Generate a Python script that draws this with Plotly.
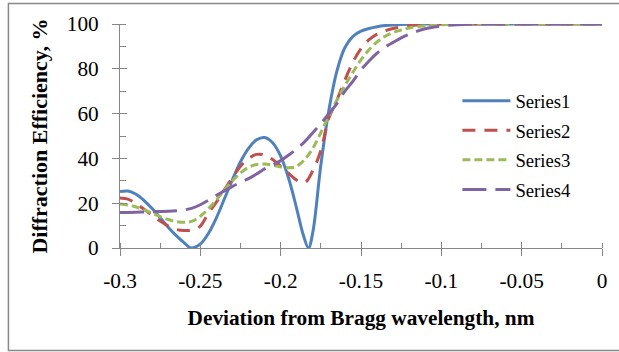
import plotly.graph_objects as go

# ---------------- data ----------------
s1_x = [-0.300, -0.295, -0.290, -0.285, -0.280, -0.275, -0.270, -0.265, -0.260, -0.2557,
        -0.250, -0.245, -0.240, -0.235, -0.230, -0.225, -0.220, -0.215, -0.210, -0.205,
        -0.200, -0.195, -0.190, -0.186, -0.1827, -0.180, -0.175, -0.170, -0.165, -0.160,
        -0.155, -0.150, -0.145, -0.140, -0.135, -0.130, -0.120, -0.110, -0.100, -0.080,
        -0.060, -0.040, -0.020, 0.0]
s1_y = [25.2, 25.4, 24.0, 21.2, 17.6, 13.5, 9.3, 5.5, 2.3, 0.0,
        1.8, 6.5, 13.5, 22.0, 30.5, 38.5, 44.5, 48.3, 49.3, 47.0,
        41.0, 31.0, 17.5, 6.0, 0.0, 7.0, 37.0, 61.5, 79.0, 89.5,
        94.5, 96.8, 98.0, 98.8, 99.3, 99.6, 99.9, 100, 100, 100,
        100, 100, 100, 100]

s2_x = [-0.300, -0.295, -0.290, -0.285, -0.280, -0.275, -0.270, -0.265, -0.260, -0.255,
        -0.250, -0.245, -0.240, -0.235, -0.230, -0.225, -0.220, -0.215, -0.210, -0.205,
        -0.200, -0.195, -0.190, -0.185, -0.180, -0.175, -0.170, -0.165, -0.160, -0.155,
        -0.150, -0.145, -0.140, -0.135, -0.130, -0.120, -0.110, -0.100, -0.080, -0.060,
        -0.040, -0.020, 0.0]
s2_y = [22.3, 21.8, 19.8, 17.3, 14.6, 12.0, 9.8, 8.3, 7.8, 8.0,
        9.8, 15.5, 20.5, 26.0, 31.5, 36.5, 40.0, 41.8, 41.5, 39.5,
        36.5, 33.3, 30.3, 29.2, 34.5, 43.5, 58.0, 66.0, 75.0, 83.0,
        89.0, 93.0, 95.5, 97.0, 98.0, 99.3, 99.8, 100, 100, 100,
        100, 100, 100]

s3_x = [-0.300, -0.295, -0.290, -0.285, -0.280, -0.275, -0.270, -0.265, -0.260, -0.255,
        -0.250, -0.245, -0.240, -0.235, -0.230, -0.225, -0.220, -0.215, -0.210, -0.205,
        -0.200, -0.195, -0.190, -0.185, -0.180, -0.175, -0.170, -0.165, -0.160, -0.155,
        -0.150, -0.145, -0.140, -0.135, -0.130, -0.125, -0.120, -0.110, -0.100, -0.090,
        -0.080, -0.060, -0.040, -0.020, 0.0]
s3_y = [19.6, 19.2, 18.3, 17.0, 15.5, 14.0, 12.7, 11.8, 11.5, 12.0,
        14.2, 17.5, 21.5, 25.8, 30.0, 33.5, 36.0, 37.3, 37.5, 37.0,
        36.2, 35.8, 36.5, 39.5, 44.5, 51.5, 59.0, 66.0, 72.5, 78.5,
        84.0, 88.5, 92.0, 94.5, 96.2, 97.3, 98.2, 99.2, 99.7, 99.9,
        100, 100, 100, 100, 100]

s4_x = [-0.300, -0.295, -0.290, -0.285, -0.280, -0.275, -0.270, -0.265, -0.260, -0.255,
        -0.250, -0.245, -0.240, -0.235, -0.230, -0.225, -0.220, -0.215, -0.210, -0.205,
        -0.200, -0.195, -0.190, -0.185, -0.180, -0.175, -0.170, -0.165, -0.160, -0.155,
        -0.150, -0.145, -0.140, -0.135, -0.130, -0.125, -0.120, -0.115, -0.110, -0.105,
        -0.100, -0.090, -0.080, -0.070, -0.060, -0.040, -0.020, 0.0]
s4_y = [15.8, 15.9, 16.0, 16.1, 16.2, 16.3, 16.4, 16.6, 17.0, 17.8,
        19.3, 21.3, 23.5, 25.5, 27.5, 29.3, 31.0, 33.0, 35.3, 37.0,
        39.0, 41.5, 44.3, 47.5, 51.5, 55.5, 60.0, 64.5, 70.0, 74.5,
        79.5, 83.5, 87.0, 89.7, 91.8, 93.8, 95.4, 96.8, 97.9, 98.6,
        99.1, 99.7, 99.9, 100, 100, 100, 100, 100]

series_names = ["Series1", "Series2", "Series3", "Series4"]
x_tick_vals = [-0.3, -0.25, -0.2, -0.15, -0.1, -0.05, 0]
x_tick_text = ["-0.3", "-0.25", "-0.2", "-0.15", "-0.1", "-0.05", "0"]
y_tick_vals = [0, 20, 40, 60, 80, 100]
y_tick_text = ["0", "20", "40", "60", "80", "100"]

# ---------------- style ----------------
colors = ["#4F81BD", "#C0504D", "#9BBB59", "#8064A2"]
dashes = ["solid", "13px,9px", "8px,4px", "24px,9px"]
xs = [s1_x, s2_x, s3_x, s4_x]
ys = [s1_y, s2_y, s3_y, s4_y]
FONT = "Liberation Serif"
AX = "#868686"

fig = go.Figure()
for name, x, y, c, d in zip(series_names, xs, ys, colors, dashes):
    fig.add_trace(go.Scatter(x=x, y=y, name=name, mode="lines", legendgroup=name,
                             line=dict(color=c, width=3, dash=d, shape="spline", smoothing=1.0)))

# invisible trace for overlay axes (cross tick marks)
fig.add_trace(go.Scatter(x=[None], y=[None], xaxis="x2", yaxis="y2", showlegend=False,
                         hoverinfo="skip"))

fig.update_layout(
    width=619, height=352, autosize=False,
    margin=dict(l=120, r=13, t=24, b=104),
    paper_bgcolor="white", plot_bgcolor="white",
    font=dict(family=FONT, color="black"),
    showlegend=True,
    legend=dict(x=0.70, y=0.4576, xanchor="left", yanchor="middle",
                font=dict(family=FONT, size=18.7, color="black"),
                bgcolor="rgba(0,0,0,0)", itemwidth=48, tracegroupgap=2.3),
    xaxis=dict(range=[-0.3, 0], tickvals=x_tick_vals, ticktext=x_tick_text,
               showgrid=False, zeroline=False, showline=True, linecolor=AX, linewidth=1,
               ticks="outside", ticklen=7, tickcolor=AX, tickwidth=1,
               tickfont=dict(family=FONT, size=21.3, color="black"), ticklabelstandoff=6,
               minor=dict(dtick=0.025, tick0=-0.3, ticks="inside", ticklen=5, tickcolor=AX, tickwidth=1),
               title=dict(text="Deviation from Bragg wavelength, nm", standoff=18,
                          font=dict(family=FONT, size=21.3, color="black", weight="bold"))),
    yaxis=dict(range=[0, 100], tickvals=y_tick_vals, ticktext=y_tick_text,
               showgrid=False, zeroline=False, showline=True, linecolor=AX, linewidth=1,
               ticks="outside", ticklen=7, tickcolor=AX, tickwidth=1,
               tickfont=dict(family=FONT, size=21.3, color="black"), ticklabelstandoff=9,
               minor=dict(dtick=10, tick0=0, ticks="inside", ticklen=6, tickcolor=AX, tickwidth=1),
               title=dict(text="Diffraction Efficiency, %", standoff=13,
                          font=dict(family=FONT, size=22, color="black", weight="bold"))),
    xaxis2=dict(overlaying="x", matches="x", anchor="y2", side="bottom", showgrid=False,
                zeroline=False, showline=False, tickvals=x_tick_vals, ticks="inside",
                ticklen=6, tickcolor=AX, tickwidth=1, showticklabels=False),
    yaxis2=dict(overlaying="y", matches="y", anchor="x2", side="left", showgrid=False,
                zeroline=False, showline=False, tickvals=y_tick_vals, ticks="inside",
                ticklen=7, tickcolor=AX, tickwidth=1, showticklabels=False),
    shapes=[dict(type="rect", xref="paper", yref="paper",
                 x0=(7.5 - 120) / 486, x1=(630 - 120) / 486,
                 y0=(248 - 350.5) / 224, y1=(248 - 3.5) / 224,
                 line=dict(color="#898989", width=1.5), fillcolor="rgba(0,0,0,0)", layer="below")],
)

fig.write_html("out.html")
